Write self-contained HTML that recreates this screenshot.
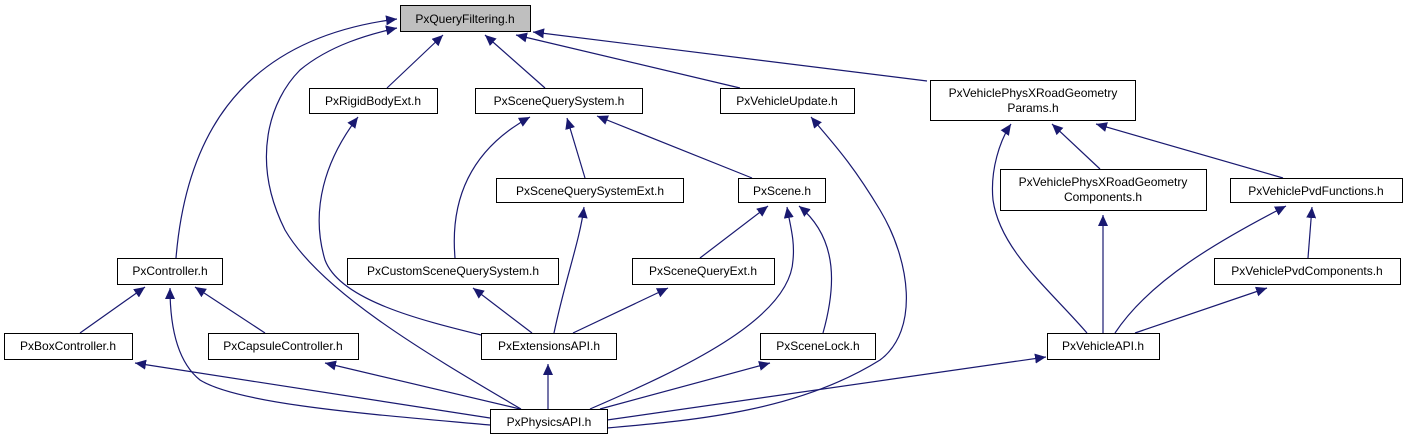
<!DOCTYPE html>
<html><head><meta charset="utf-8"><style>
html,body{margin:0;padding:0;background:#fff;}
svg{display:block;}
text{font-family:"Liberation Sans",Arial,sans-serif;font-size:12px;fill:#000;}
</style></head><body>
<svg width="1406" height="440" viewBox="0 0 1406 440" xmlns="http://www.w3.org/2000/svg">
<defs>
<marker id="a" markerWidth="12" markerHeight="10" refX="11" refY="5" orient="auto" markerUnits="userSpaceOnUse">
<path d="M0,0 L11,5 L0,10 z" fill="#191970"/>
</marker>
</defs>
<g fill="none" stroke="#191970" stroke-width="1.2" marker-end="url(#a)">
<path d="M176,258 C185,150 230,40 397,19"/>
<path d="M521,409 C420,350 320,290 285,230 C250,160 270,100 300,70 C330,45 370,34 397,28"/>
<path d="M387,88 L443,35"/>
<path d="M545,88 L485,35"/>
<path d="M740,88 L516,35"/>
<path d="M927,81 L533,32"/>
<path d="M585,178 L567,118"/>
<path d="M752,178 L597,116"/>
<path d="M455,258 C450,200 470,150 530,117"/>
<path d="M481,335 C420,320 340,300 325,260 C310,210 325,160 358,117"/>
<path d="M532,333 L473,288"/>
<path d="M554,333 C565,280 580,240 584,207"/>
<path d="M573,333 L668,288"/>
<path d="M548,409 L548,364"/>
<path d="M700,258 L768,206"/>
<path d="M590,409 C680,370 790,320 793,260 C795,240 790,225 787,207"/>
<path d="M823,333 C835,290 840,240 799,206"/>
<path d="M600,409 L770,363"/>
<path d="M607,428 C700,420 800,410 880,360 C920,330 910,260 880,210 C850,160 830,140 811,117"/>
<path d="M607,420 L1046,357"/>
<path d="M80,333 L145,287"/>
<path d="M265,333 L195,287"/>
<path d="M490,425 C380,415 240,405 200,380 C175,360 170,320 170,288"/>
<path d="M490,418 L135,363"/>
<path d="M520,409 L325,363"/>
<path d="M1100,169 L1052,124"/>
<path d="M1283,178 L1096,124"/>
<path d="M1087,333 C1050,290 1000,250 993,200 C990,170 1000,140 1011,124"/>
<path d="M1103,333 L1103,215"/>
<path d="M1115,333 C1150,280 1220,240 1286,206"/>
<path d="M1135,333 L1267,288"/>
<path d="M1308,258 L1312,207"/>
</g>
<g stroke="#000" stroke-width="1" fill="#fff">
<rect x="400.5" y="5.5" width="130" height="26" fill="#bfbfbf"/>
<rect x="309.5" y="88.5" width="128" height="25"/>
<rect x="475.5" y="88.5" width="167" height="25"/>
<rect x="720.5" y="88.5" width="134" height="25"/>
<rect x="930.5" y="80.5" width="205" height="40"/>
<rect x="496.5" y="178.5" width="187" height="24"/>
<rect x="738.5" y="178.5" width="87" height="24"/>
<rect x="1000.5" y="169.5" width="206" height="41"/>
<rect x="1230.5" y="178.5" width="172" height="24"/>
<rect x="117.5" y="258.5" width="105" height="26"/>
<rect x="347.5" y="258.5" width="211" height="26"/>
<rect x="632.5" y="258.5" width="142" height="26"/>
<rect x="1214.5" y="258.5" width="186" height="26"/>
<rect x="4.5" y="333.5" width="128" height="26"/>
<rect x="208.5" y="333.5" width="150" height="26"/>
<rect x="481.5" y="333.5" width="135" height="26"/>
<rect x="760.5" y="333.5" width="115" height="26"/>
<rect x="1047.5" y="333.5" width="112" height="26"/>
<rect x="490.5" y="409.5" width="117" height="24"/>
</g>
<g text-anchor="middle">
<text x="465" y="23">PxQueryFiltering.h</text>
<text x="373" y="105">PxRigidBodyExt.h</text>
<text x="559" y="105">PxSceneQuerySystem.h</text>
<text x="787" y="105">PxVehicleUpdate.h</text>
<text x="1033" y="97">PxVehiclePhysXRoadGeometry</text>
<text x="1033" y="112">Params.h</text>
<text x="590" y="195">PxSceneQuerySystemExt.h</text>
<text x="782" y="195">PxScene.h</text>
<text x="1103" y="186">PxVehiclePhysXRoadGeometry</text>
<text x="1103" y="201">Components.h</text>
<text x="1316" y="195">PxVehiclePvdFunctions.h</text>
<text x="170" y="275">PxController.h</text>
<text x="453" y="275">PxCustomSceneQuerySystem.h</text>
<text x="703" y="275">PxSceneQueryExt.h</text>
<text x="1307" y="275">PxVehiclePvdComponents.h</text>
<text x="68" y="350">PxBoxController.h</text>
<text x="283" y="350">PxCapsuleController.h</text>
<text x="549" y="350">PxExtensionsAPI.h</text>
<text x="818" y="350">PxSceneLock.h</text>
<text x="1103" y="350">PxVehicleAPI.h</text>
<text x="549" y="426">PxPhysicsAPI.h</text>
</g>
</svg>
</body></html>
